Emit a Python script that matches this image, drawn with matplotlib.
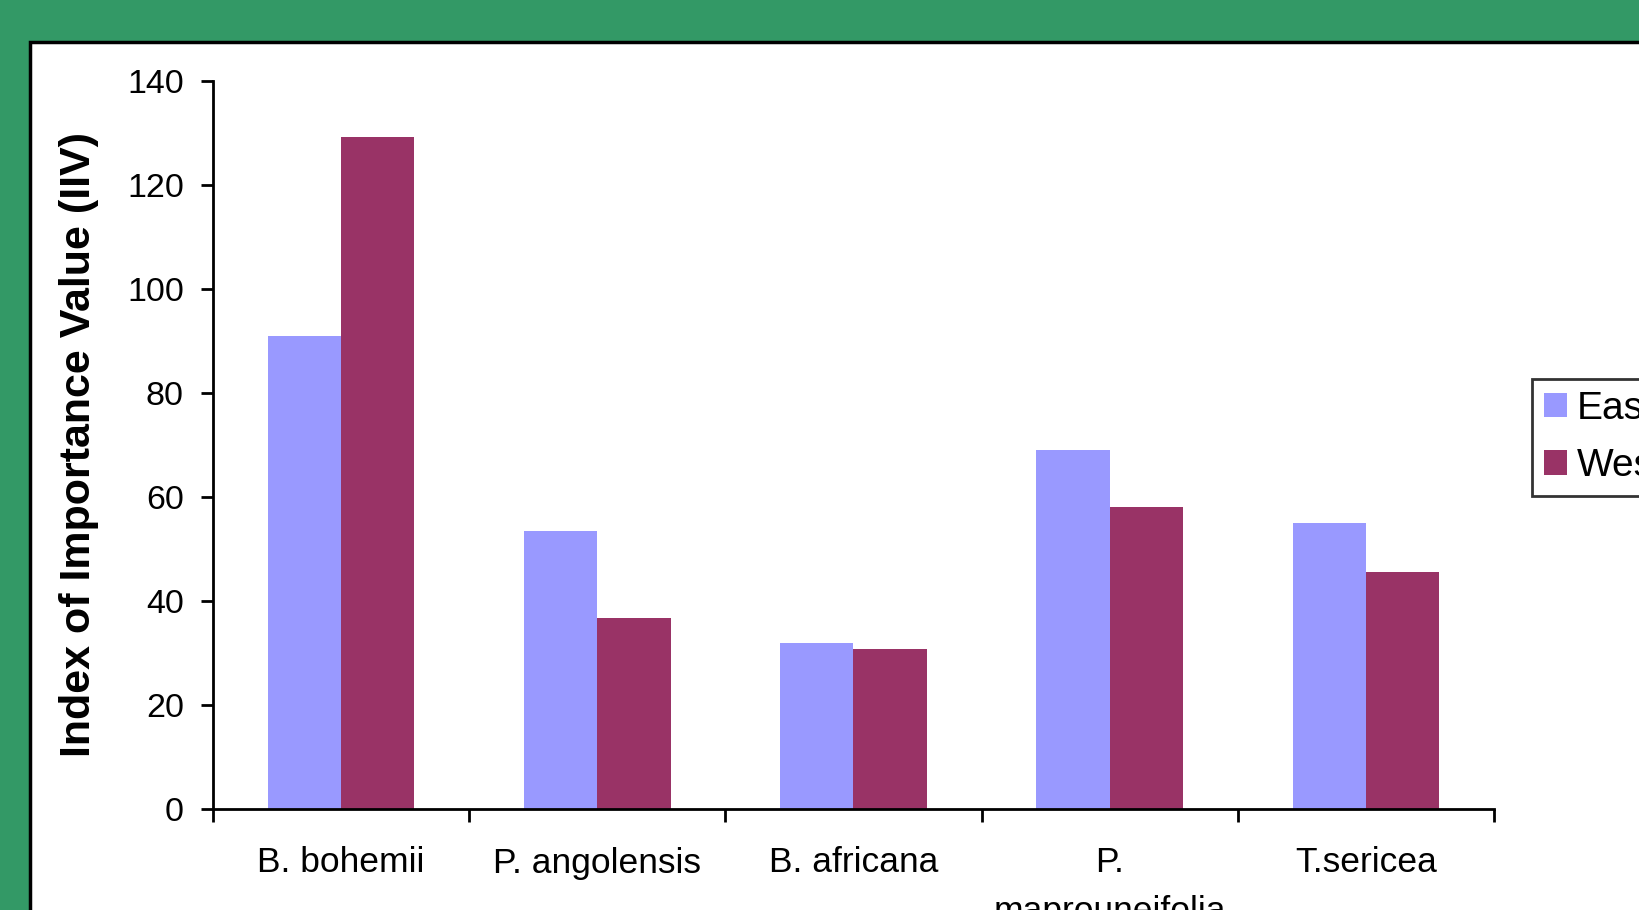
import matplotlib.pyplot as plt
import matplotlib.patches as mpatches
import numpy as np

plt.rcParams['font.family'] = ['Liberation Sans', 'DejaVu Sans']

# Data
species = ['B. bohemii', 'P. angolensis', 'B. africana', 'P.\nmaprouneifolia', 'T.sericea']
east = [91.0, 53.4, 32.0, 69.1, 55.0]
west = [129.3, 36.7, 30.8, 58.0, 45.5]

fig = plt.figure(figsize=(16.4, 9.1), dpi=100, facecolor='#339966')

# White panel with black frame (runs off the right and bottom edges)
panel = mpatches.Rectangle((30 / 1640, -0.05), 1.1, 1 - 42 / 910 + 0.05,
                           transform=fig.transFigure, facecolor='white',
                           edgecolor='black', linewidth=2.5, zorder=-10)
fig.patches.append(panel)

ax = fig.add_axes([213 / 1640, 1 - 809 / 910, (1494 - 213) / 1640, (809 - 81) / 910])
ax.set_facecolor('none')
ax.set_zorder(1)

x = np.arange(len(species))
w = 0.286
ax.bar(x - w / 2, east, w, color='#9999FF', label='East')
ax.bar(x + w / 2, west, w, color='#993366', label='West')

ax.set_xlim(-0.5, len(species) - 0.5)
ax.set_ylim(0, 140)
ax.set_yticks(np.arange(0, 141, 20))
ax.set_xticks(x)
ax.set_xticklabels(species, fontsize=25.5, linespacing=1.6, va='top')
ax.set_xticks(np.arange(-0.5, len(species)), minor=True)
ax.tick_params(axis='x', which='major', length=0, pad=27)
ax.tick_params(axis='x', which='minor', length=9, width=2, direction='out')
ax.tick_params(axis='y', labelsize=24.5, length=9, width=2, direction='out', pad=12)

for s in ['top', 'right']:
    ax.spines[s].set_visible(False)
for s in ['left', 'bottom']:
    ax.spines[s].set_linewidth(2)

ax.set_ylabel('Index of Importance Value (IIV)', fontsize=31, fontweight='bold', labelpad=20)

leg = fig.legend(loc='upper left', bbox_to_anchor=(1532 / 1640, 1 - 379 / 910),
                 fontsize=28, frameon=True, fancybox=False, edgecolor='black',
                 handlelength=0.6, handleheight=0.6, handletextpad=0.25,
                 labelspacing=0.55, borderpad=0.3, borderaxespad=0)
leg.get_frame().set_linewidth(2)
leg.set_zorder(2)

plt.savefig('out.png', dpi=100, facecolor=fig.get_facecolor())
